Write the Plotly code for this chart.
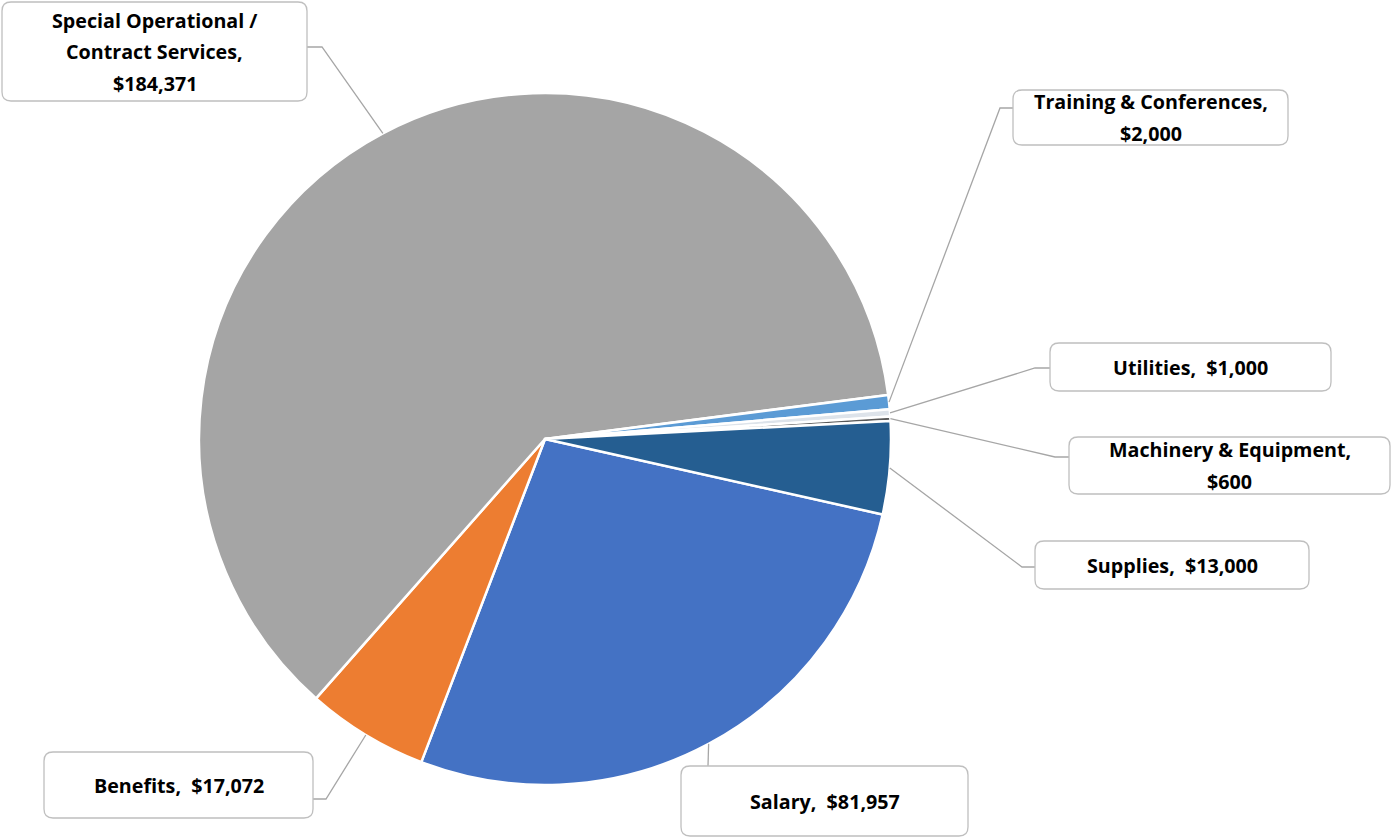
import math
import plotly.graph_objects as go

# Budget categories (in slice order, clockwise)
categories = ["Salary", "Benefits", "Special Operational / Contract Services",
              "Training & Conferences", "Utilities", "Machinery & Equipment", "Supplies"]
amounts = [81957, 17072, 184371, 2000, 1000, 600, 13000]
slice_colors = ["#4472C4", "#ED7D31", "#A5A5A5", "#5B9BD5", "#DDE3EA", "#595959", "#255E91"]

# Callout text lines for each category
label_lines = [
    ["Salary,\u00a0 $81,957"],
    ["Benefits,\u00a0 $17,072"],
    ["Special Operational /", "Contract Services,", "$184,371"],
    ["Training & Conferences,", "$2,000"],
    ["Utilities,\u00a0 $1,000"],
    ["Machinery & Equipment,", "$600"],
    ["Supplies,\u00a0 $13,000"],
]

W, H = 1391, 838
CX, CY, R = 545, 439, 346
ROTATION = 102.6

# Callout boxes in pixels: (x0, y0, x1, y1) and elbow point of the leader line
boxes = [
    (681, 766, 968, 836),
    (44, 752, 313, 818),
    (2, 2, 307, 101),
    (1013, 90, 1288, 145),
    (1050, 343, 1331, 391),
    (1069, 437, 1390, 494),
    (1035, 541, 1309, 589),
]
elbows = [
    [(708, 766)],
    [(313, 799), (326, 799)],
    [(307, 47), (322, 47)],
    [(1013, 108), (1000, 108)],
    [(1050, 368), (1035, 368)],
    [(1069, 457), (1055, 457)],
    [(1035, 567), (1022, 567)],
]


def px(x):
    return x / W


def py(y):
    return 1 - y / H


def rounded_rect(x0, y0, x1, y1, r=9):
    pts = [
        f"M{px(x0 + r)},{py(y0)}",
        f"L{px(x1 - r)},{py(y0)}",
        f"Q{px(x1)},{py(y0)} {px(x1)},{py(y0 + r)}",
        f"L{px(x1)},{py(y1 - r)}",
        f"Q{px(x1)},{py(y1)} {px(x1 - r)},{py(y1)}",
        f"L{px(x0 + r)},{py(y1)}",
        f"Q{px(x0)},{py(y1)} {px(x0)},{py(y1 - r)}",
        f"L{px(x0)},{py(y0 + r)}",
        f"Q{px(x0)},{py(y0)} {px(x0 + r)},{py(y0)}",
        "Z",
    ]
    return " ".join(pts)


fig = go.Figure()
fig.add_trace(go.Pie(
    labels=categories,
    values=amounts,
    sort=False,
    direction="clockwise",
    rotation=ROTATION,
    marker=dict(colors=slice_colors, line=dict(color="white", width=2.5)),
    textinfo="none",
    hoverinfo="label+value",
    domain=dict(x=[(CX - R) / W, (CX + R) / W], y=[1 - (CY + R) / H, 1 - (CY - R) / H]),
    showlegend=False,
))

shapes = []
annotations = []
total = sum(amounts)
cum = 0
for i, val in enumerate(amounts):
    mid = ROTATION + 360 * (cum + val / 2) / total
    cum += val
    ax = CX + R * math.sin(math.radians(mid))
    ay = CY - R * math.cos(math.radians(mid))
    pts = elbows[i] + [(ax, ay)]
    path = f"M{px(pts[0][0])},{py(pts[0][1])} " + " ".join(
        f"L{px(x)},{py(y)}" for x, y in pts[1:])
    shapes.append(dict(type="path", xref="paper", yref="paper", path=path,
                       line=dict(color="#A6A6A6", width=1.3)))
    x0, y0, x1, y1 = boxes[i]
    shapes.append(dict(type="path", xref="paper", yref="paper",
                       path=rounded_rect(x0, y0, x1, y1),
                       fillcolor="white", line=dict(color="#BFBFBF", width=1.3)))
    lines = label_lines[i]
    n = len(lines)
    cyb = (y0 + y1) / 2
    step = 31.5
    for k, t in enumerate(lines):
        ly = cyb + (k - (n - 1) / 2) * step
        annotations.append(dict(
            x=px((x0 + x1) / 2), y=py(ly), xref="paper", yref="paper",
            text=f"<b>{t}</b>", showarrow=False, xanchor="center", yanchor="middle",
            font=dict(family="Open Sans", size=19.7, color="#000000"),
        ))

fig.update_layout(
    width=W, height=H,
    margin=dict(l=0, r=0, t=0, b=0),
    paper_bgcolor="white",
    plot_bgcolor="white",
    shapes=shapes,
    annotations=annotations,
)

fig.write_html("out.html")
